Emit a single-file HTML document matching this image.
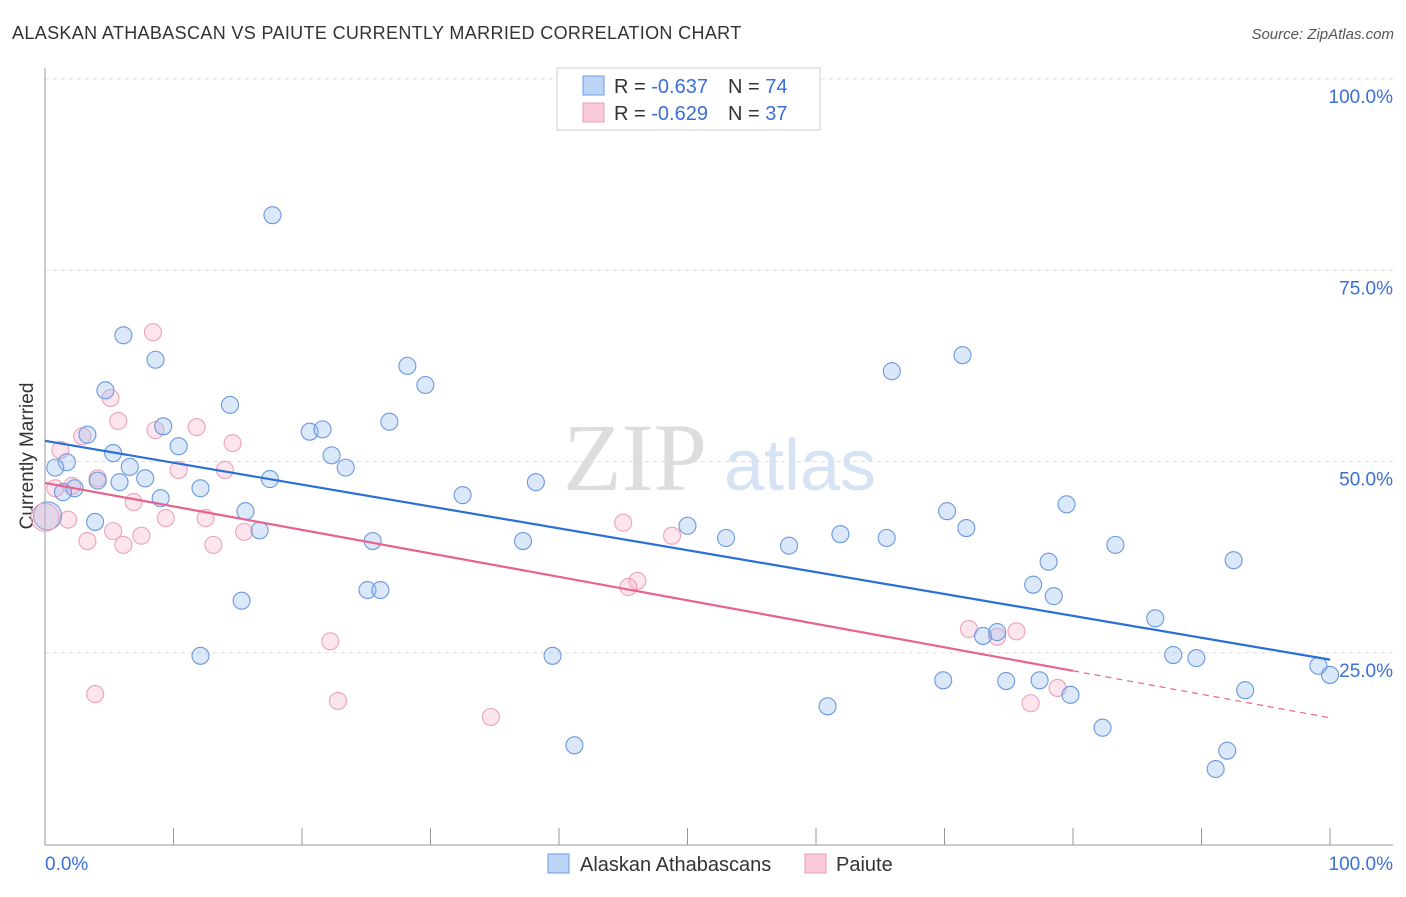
<!DOCTYPE html>
<html><head><meta charset="utf-8"><style>
body{margin:0;background:#fff;font-family:"Liberation Sans",sans-serif}
</style></head><body>
<svg width="1406" height="892" viewBox="0 0 1406 892">
<text x="12" y="39" font-size="18" fill="#333" letter-spacing="0.35">ALASKAN ATHABASCAN VS PAIUTE CURRENTLY MARRIED CORRELATION CHART</text>
<text x="1394" y="39" font-size="15" fill="#555" text-anchor="end" font-style="italic">Source: ZipAtlas.com</text>
<g><text x="635" y="490" font-size="96" fill="#ddd" font-family="Liberation Serif,serif" text-anchor="middle">ZIP</text><text x="800" y="490" font-size="72" fill="#d6e3f5" text-anchor="middle">atlas</text></g>
<g id="grid"></g>
<line x1="45" y1="68" x2="45" y2="845" stroke="#999"/>
<line x1="45" y1="845" x2="1393" y2="845" stroke="#999"/>
<text x="33" y="456" font-size="19" fill="#333" text-anchor="middle" transform="rotate(-90 33 456)">Currently Married</text>
<text x="45" y="870" font-size="19" fill="#3a6fd8">0.0%</text>
<text x="1393" y="870" font-size="19" fill="#3a6fd8" text-anchor="end">100.0%</text>
<g id="marks"></g>
<g>
<rect x="557" y="68" width="263" height="62" fill="#fff" stroke="#ccc"/>
<rect x="583" y="76" width="21" height="19" fill="#bcd4f5" stroke="#6c9be0"/>
<rect x="583" y="103" width="21" height="19" fill="#f9cbd8" stroke="#ec9ab3"/>
<text x="614" y="93" font-size="20" fill="#333">R = <tspan fill="#3a6fd8">-0.637</tspan><tspan dx="20">N = </tspan><tspan fill="#3a6fd8">74</tspan></text>
<text x="614" y="120" font-size="20" fill="#333">R = <tspan fill="#3a6fd8">-0.629</tspan><tspan dx="20">N = </tspan><tspan fill="#3a6fd8">37</tspan></text>
</g>
<g>
<rect x="548" y="854" width="21" height="19" fill="#bcd4f5" stroke="#6c9be0"/>
<text x="580" y="871" font-size="20" fill="#333">Alaskan Athabascans</text>
<rect x="805" y="854" width="21" height="19" fill="#f9cbd8" stroke="#ec9ab3"/>
<text x="836" y="871" font-size="20" fill="#333">Paiute</text>
</g>
</svg>
<script>
const yTicks=[25,50,75,100];
const yTickLabels=["25.0%","50.0%","75.0%","100.0%"];
const xTicks=[0,10,20,30,40,50,60,70,80,90,100];
const blueX=[17.7,6.1,8.6,4.7,14.4,28.2,29.6,71.4,65.9,9.2,20.6,21.6,26.8,3.3,5.3,10.4,22.3,1.7,0.8,6.6,7.8,5.8,23.4,4.1,2.3,1.4,12.1,9.0,17.5,32.5,38.2,15.6,16.7,3.9,25.5,37.2,50.0,53.0,57.9,61.9,65.5,70.2,71.7,79.5,83.3,92.5,78.1,76.9,78.5,25.1,26.1,15.3,86.4,12.1,39.5,73.0,74.1,87.8,89.6,99.1,100,69.9,74.8,77.4,79.8,93.4,60.9,82.3,41.2,92.0,91.1];
const blueY=[82.2,66.5,63.3,59.3,57.4,62.5,60.0,63.9,61.8,54.6,53.9,54.2,55.2,53.5,51.1,52.0,50.8,49.9,49.2,49.3,47.8,47.3,49.2,47.5,46.5,46.0,46.5,45.2,47.7,45.6,47.3,43.5,41.0,42.1,39.6,39.6,41.6,40.0,39.0,40.5,40.0,43.5,41.3,44.4,39.1,37.1,36.9,33.9,32.4,33.2,33.2,31.8,29.5,24.6,24.6,27.2,27.7,24.7,24.3,23.3,22.1,21.4,21.3,21.4,19.5,20.1,18.0,15.2,12.9,12.2,9.8];
const pinkX=[8.4,5.1,5.7,8.6,11.8,14.6,2.9,1.2,10.4,14.0,4.1,2.1,0.8,6.9,1.8,9.4,12.5,5.3,7.5,15.5,3.3,6.1,13.1,45.0,48.8,46.1,45.4,22.2,71.9,75.6,74.1,3.9,22.8,34.7,78.8,76.7];
const pinkY=[66.9,58.3,55.3,54.1,54.5,52.4,53.3,51.5,48.9,48.9,47.8,46.8,46.5,44.7,42.4,42.6,42.6,40.9,40.3,40.8,39.6,39.1,39.1,42.0,40.3,34.4,33.6,26.5,28.1,27.8,27.1,19.6,18.7,16.6,20.4,18.4];
const bigPoint=[0.2,42.9];
const blueTrend=[52.7,24.1];
const pinkTrend=[47.2,16.5];
const pinkSolidEnd=80;
const NS="http://www.w3.org/2000/svg";
const sx=v=>45+v*12.85, sy=v=>844-v*7.65;
const grid=document.getElementById('grid'), marks=document.getElementById('marks');
function mk(tag,attrs,parent){const e=document.createElementNS(NS,tag);for(const k in attrs)e.setAttribute(k,attrs[k]);parent.appendChild(e);return e;}
yTicks.forEach((t,i)=>{
  const l=mk('line',{x1:45,x2:1393,y1:sy(t),y2:sy(t),stroke:'#ddd','stroke-dasharray':'4,4'},grid);
  
  
  const tx=mk('text',{x:1393,y:sy(t)+24,'font-size':19,fill:'#3a6fd8','text-anchor':'end'},grid);
  tx.textContent=yTickLabels[i];
  
  
});
xTicks.forEach(t=>{
  const l=mk('line',{x1:sx(t),x2:sx(t),y1:828,y2:845,stroke:'#999'},grid);
  
  
});
function dots(X,Y,fill,stroke,name){X.forEach((x,i)=>{
  const c=mk('circle',{cx:sx(x),cy:sy(Y[i]),r:8.5,fill:fill,stroke:stroke,'stroke-width':1.1},marks);
  
  
});}
dots(pinkX,pinkY,'rgba(244,170,195,0.3)','#eca2bb','paiute-point');
dots(blueX,blueY,'rgba(150,190,240,0.35)','#6a98e0','athabascan-point');
const b1=mk('circle',{cx:sx(bigPoint[0]),cy:sy(bigPoint[1]),r:14,fill:'rgba(150,190,240,0.35)',stroke:'#6a98e0'},marks);


const b2=mk('circle',{cx:sx(0),cy:sy(bigPoint[1]-0.2),r:14,fill:'rgba(244,170,195,0.3)',stroke:'#eca2bb'},marks);


const bl=mk('line',{x1:sx(0),y1:sy(blueTrend[0]),x2:sx(100),y2:sy(blueTrend[1]),stroke:'#2a6fd6','stroke-width':2.2},marks);


const pAt=x=>pinkTrend[0]+(pinkTrend[1]-pinkTrend[0])*x/100;
const pl=mk('line',{x1:sx(0),y1:sy(pinkTrend[0]),x2:sx(pinkSolidEnd),y2:sy(pAt(pinkSolidEnd)),stroke:'#e8628e','stroke-width':2.2},marks);


const pd=mk('line',{x1:sx(pinkSolidEnd),y1:sy(pAt(pinkSolidEnd)),x2:sx(100),y2:sy(pinkTrend[1]),stroke:'#e8628e','stroke-width':1.2,'stroke-dasharray':'6,5'},marks);


</script>
</body></html>
